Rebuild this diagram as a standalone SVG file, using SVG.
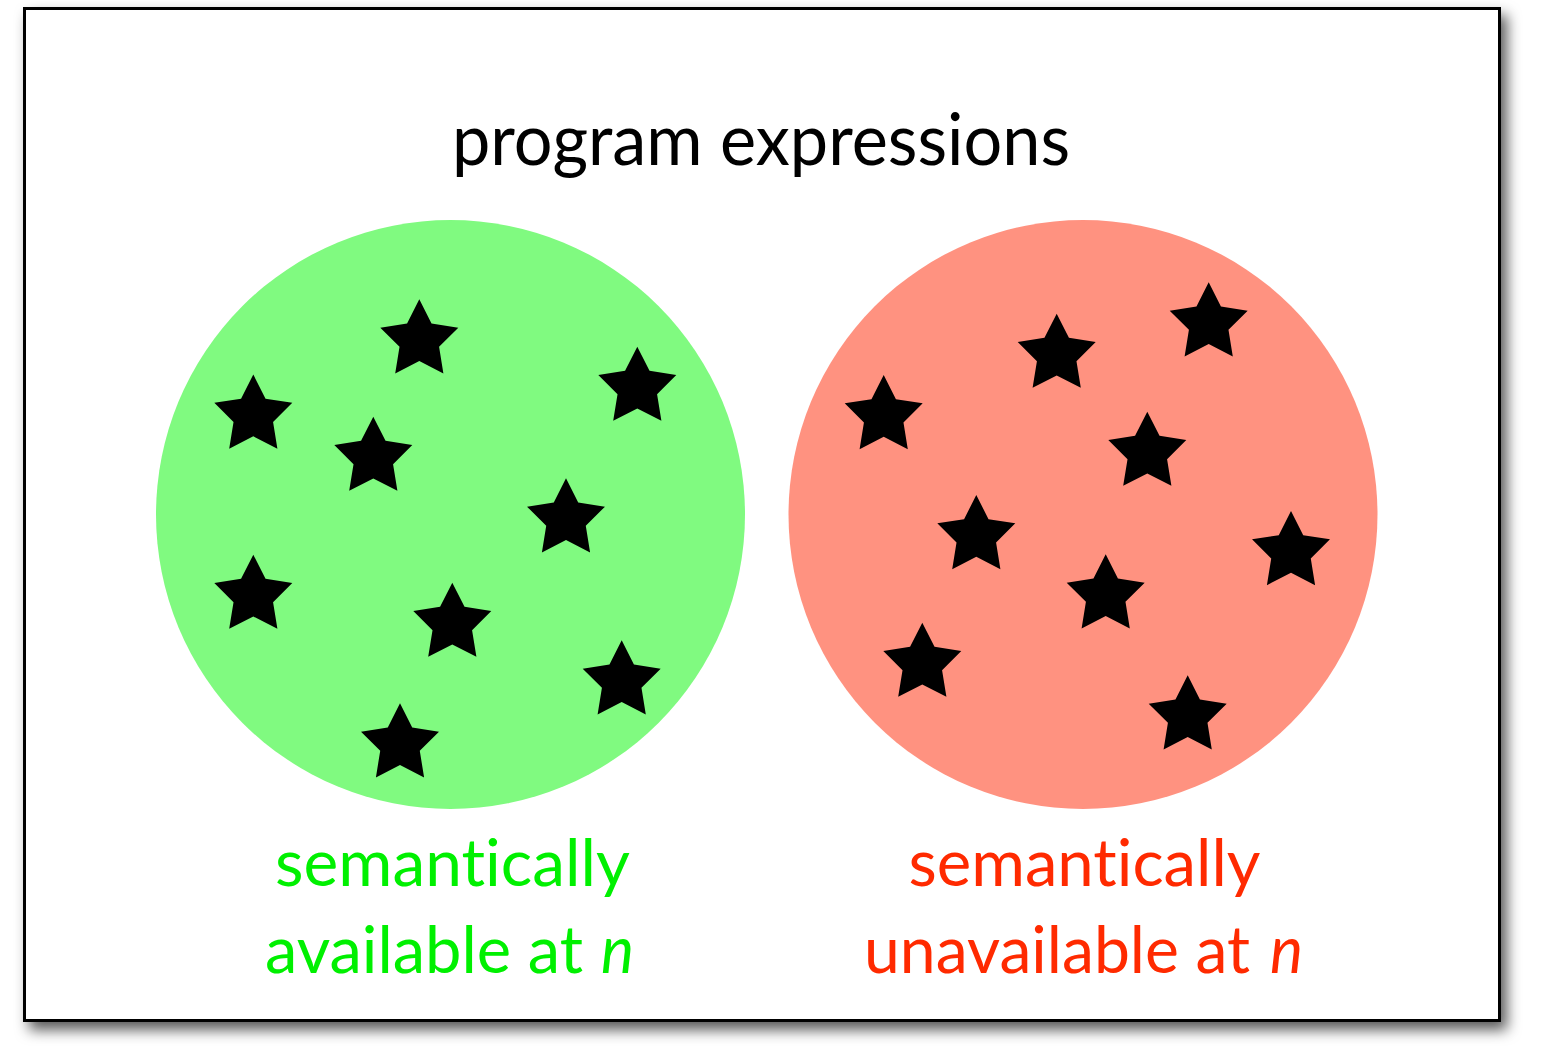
<svg xmlns="http://www.w3.org/2000/svg" width="1555" height="1052" viewBox="0 0 1555 1052">
<style>
.title{font-family:Lato,"Open Sans","Liberation Sans",sans-serif;font-size:72px;fill:#000;font-variant-ligatures:none}
.lbl{font-family:Lato,"Open Sans","Liberation Sans",sans-serif;font-size:66px;font-variant-ligatures:none}
.it{font-style:italic}
.g{fill:#00F000}
.r{fill:#FF2A00}
.star{fill:#000}
</style>
<defs>
<filter id="shadow" x="-5%" y="-5%" width="115%" height="115%">
<feDropShadow dx="6" dy="8" stdDeviation="7" flood-color="#000" flood-opacity="0.65"/>
</filter>
<path id="st" d="M0,-41 L12.23,-16.83 L38.99,-12.67 L19.78,6.43 L24.1,33.17 L0,20.8 L-24.1,33.17 L-19.78,6.43 L-38.99,-12.67 L-12.23,-16.83 Z"/>
</defs>
<rect width="1555" height="1052" fill="#fff"/>
<g id="frame">
<rect x="24.5" y="8.5" width="1475" height="1012" fill="#fff" stroke="#000" stroke-width="3" filter="url(#shadow)"/>
</g>
<g id="title">
<text class="title" x="761" y="165" text-anchor="middle" textLength="618" lengthAdjust="spacingAndGlyphs">program expressions</text>
</g>
<g id="available">
<circle cx="450.5" cy="514.5" r="294.5" fill="#80FA80"/>
<g class="star">
<use href="#st" x="419.3" y="340.3"/>
<use href="#st" x="637.3" y="387.7"/>
<use href="#st" x="253.3" y="415.5"/>
<use href="#st" x="373.3" y="457.7"/>
<use href="#st" x="566" y="519.3"/>
<use href="#st" x="253.3" y="595.7"/>
<use href="#st" x="452.3" y="623.7"/>
<use href="#st" x="621.7" y="681.3"/>
<use href="#st" x="400" y="744.3"/>
</g>
<text class="lbl g" x="452.5" y="886" text-anchor="middle" textLength="355" lengthAdjust="spacingAndGlyphs">semantically</text>
<text class="lbl g" x="265" y="973" textLength="318" lengthAdjust="spacingAndGlyphs">available at</text>
<text class="lbl g it" x="601" y="973" textLength="33" lengthAdjust="spacingAndGlyphs">n</text>
</g>
<g id="unavailable">
<circle cx="1083" cy="514.5" r="294.5" fill="#FF9280"/>
<g class="star">
<use href="#st" x="883.7" y="416"/>
<use href="#st" x="1056.7" y="354.7"/>
<use href="#st" x="1208.7" y="323.3"/>
<use href="#st" x="1147.3" y="452.7"/>
<use href="#st" x="976.3" y="536"/>
<use href="#st" x="1105.7" y="595.3"/>
<use href="#st" x="1291" y="552"/>
<use href="#st" x="922.3" y="663.7"/>
<use href="#st" x="1187.7" y="716.3"/>
</g>
<text class="lbl r" x="1084.5" y="886" text-anchor="middle" textLength="352" lengthAdjust="spacingAndGlyphs">semantically</text>
<text class="lbl r" x="864" y="973" textLength="386" lengthAdjust="spacingAndGlyphs">unavailable at</text>
<text class="lbl r it" x="1270" y="973" textLength="33" lengthAdjust="spacingAndGlyphs">n</text>
</g>
<g id="connectors"/>
</svg>
